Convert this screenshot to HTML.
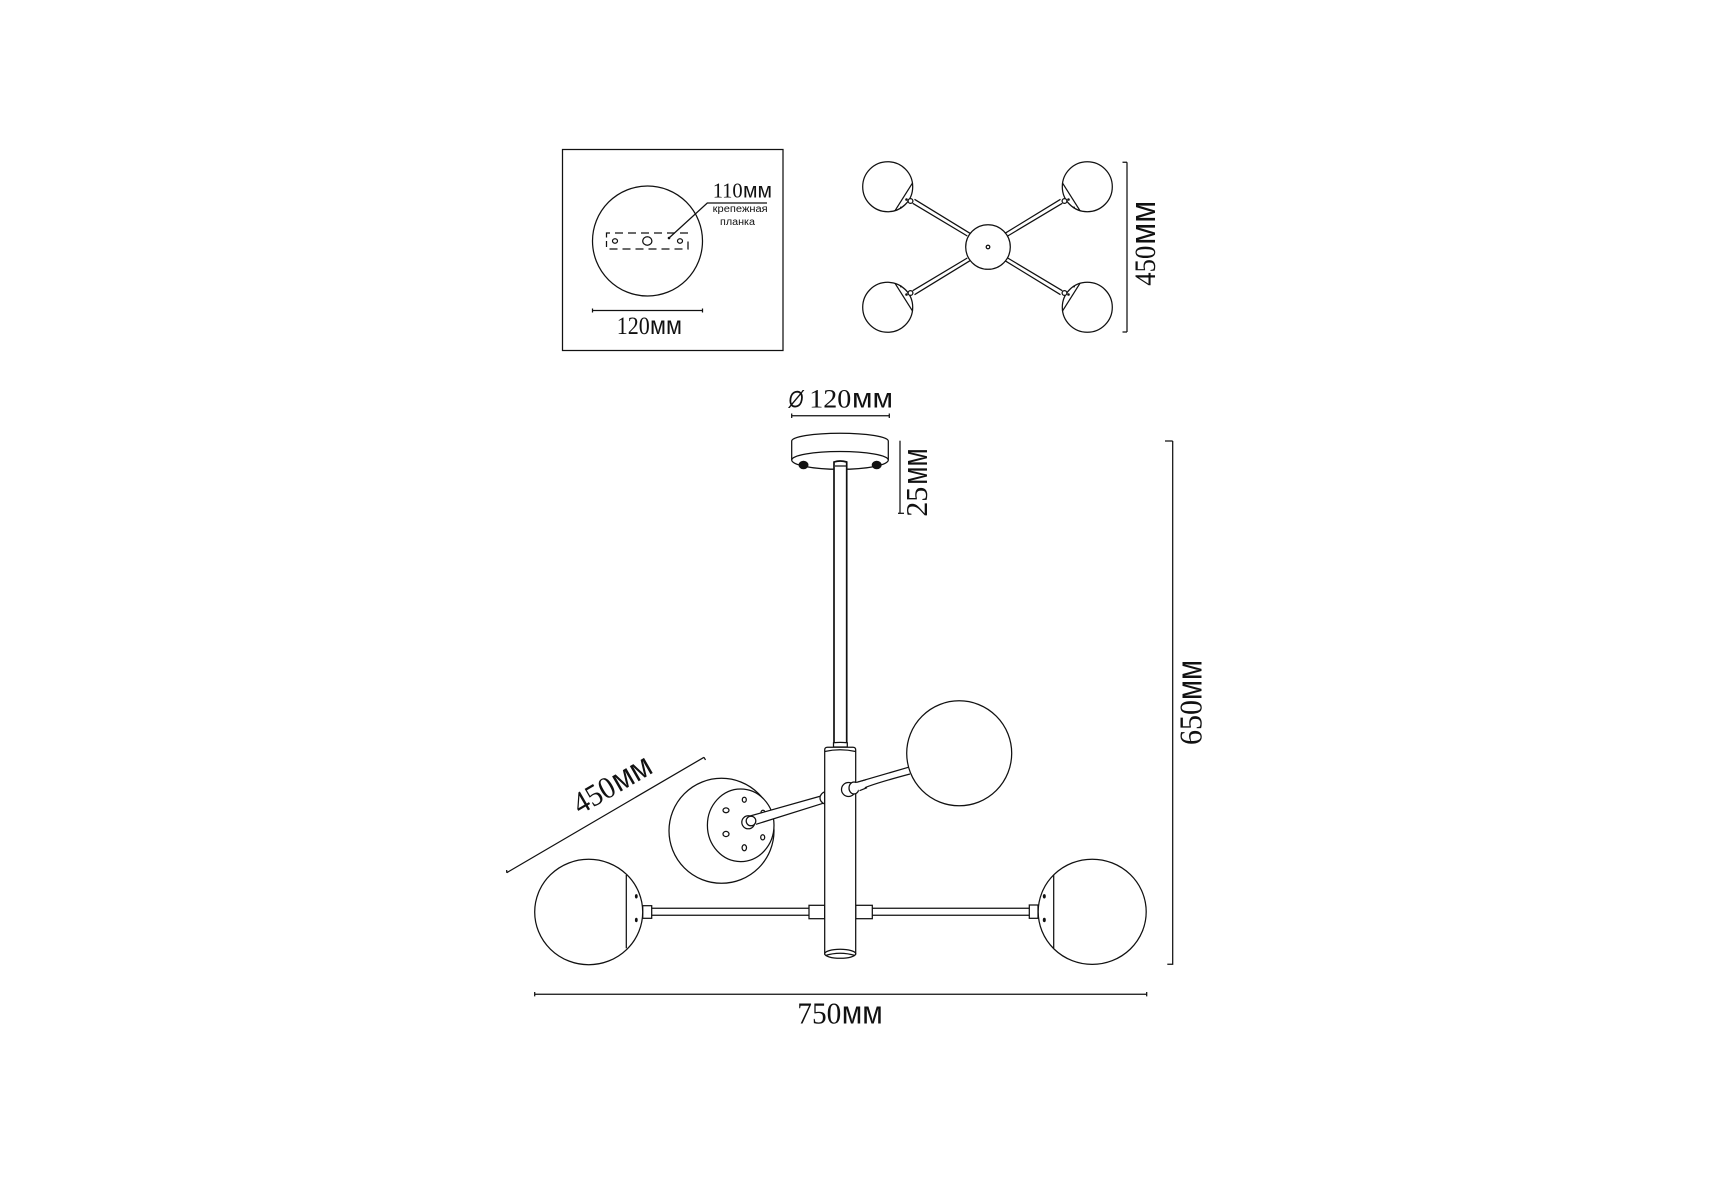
<!DOCTYPE html>
<html>
<head>
<meta charset="utf-8">
<style>
html,body{margin:0;padding:0;background:#fff;width:1715px;height:1200px;overflow:hidden}
svg{display:block}
.l{fill:none;stroke:#111;stroke-width:1.25}
.w{fill:#fff;stroke:#111;stroke-width:1.25}
.d{fill:#111;stroke:none}
.s{font-family:"Liberation Serif",serif;fill:#111}
.a{font-family:"Liberation Sans",sans-serif;fill:#111}
</style>
</head>
<body>
<svg width="1715" height="1200" viewBox="0 0 1715 1200" xmlns="http://www.w3.org/2000/svg">
<rect width="1715" height="1200" fill="#fff"/>

<!-- Mounting plate box -->
<rect class="l" x="565.5" y="149.5" width="220.5" height="201" transform="translate(-3,0)"/>
<circle class="l" cx="647.5" cy="241" r="55"/>
<path class="l" d="M606.5 237.5V233H688V238M688 241.5V249H606.5V241" stroke-dasharray="8 5"/>
<ellipse class="l" cx="615" cy="241" rx="2.5" ry="2.2"/>
<ellipse class="l" cx="647.3" cy="241" rx="4.6" ry="4.2"/>
<ellipse class="l" cx="680" cy="241" rx="2.5" ry="2.2"/>
<path class="l" d="M669 238L707.3 203H767"/>
<circle class="d" cx="669" cy="238" r="1.3"/>
<text class="s" x="712.7" y="197.5" font-size="21" textLength="30" lengthAdjust="spacingAndGlyphs">110</text>
<text class="a" x="743" y="197.5" font-size="21" textLength="29" lengthAdjust="spacingAndGlyphs">мм</text>
<text class="a" x="712.7" y="212" font-size="10" textLength="55" lengthAdjust="spacingAndGlyphs">крепежная</text>
<text class="a" x="720" y="225" font-size="10" textLength="35" lengthAdjust="spacingAndGlyphs">планка</text>
<path class="l" d="M592.5 310.5H702.5M592.5 308.5V312.5M702.5 308.5V312.5"/>
<text class="s" x="616.7" y="334" font-size="25.5" textLength="33" lengthAdjust="spacingAndGlyphs">120</text>
<text class="a" x="650" y="334" font-size="26" textLength="32" lengthAdjust="spacingAndGlyphs">мм</text>

<!-- Top view -->
<g id="q">
<path class="l" d="M912.7 203.3L967.3 236M914.5 199.3L970 233.3"/>
<circle class="w" cx="887.7" cy="186.7" r="25"/>
<path class="l" d="M912.7 182.7L895 210.7"/>
<circle class="w" cx="910.5" cy="201" r="2.4"/>
<circle class="d" cx="906.5" cy="199.5" r="1.3"/>
<circle class="d" cx="901" cy="207.5" r="1"/>
</g>
<use href="#q" transform="translate(1975,0) scale(-1,1)"/>
<use href="#q" transform="translate(0,494) scale(1,-1)"/>
<use href="#q" transform="translate(1975,494) scale(-1,-1)"/>
<circle class="w" cx="988" cy="247" r="22.3"/>
<circle class="l" cx="988" cy="247" r="1.8"/>
<path class="l" d="M1127 162.3V332M1122.5 162.3H1127M1122.5 332H1127"/>
<g transform="translate(1155,285.7) rotate(-90)">
<text class="s" x="0" y="0" font-size="30" textLength="40" lengthAdjust="spacingAndGlyphs">450</text>
<text class="a" x="41" y="0" font-size="36" textLength="44" lengthAdjust="spacingAndGlyphs">мм</text>
</g>

<!-- Dim: phi 120 -->
<text class="a" x="788.5" y="407.7" font-size="24" font-style="italic" textLength="15" lengthAdjust="spacingAndGlyphs">Ø</text>
<text class="s" x="809.3" y="407.7" font-size="26.5" textLength="42" lengthAdjust="spacingAndGlyphs">120</text>
<text class="a" x="852" y="407.7" font-size="27.5" textLength="41" lengthAdjust="spacingAndGlyphs">мм</text>
<path class="l" d="M791.7 415.7H889.3M791.7 413.5V418M889.3 413.5V418"/>

<!-- Canopy -->
<path class="w" d="M791.7 441A48.3 7.8 0 0 1 888.3 441V460A48.3 9.3 0 0 1 791.7 460Z"/>
<path class="l" d="M791.7 460A48.3 8.5 0 0 1 888.3 460"/>
<ellipse cx="803.5" cy="465" rx="5" ry="4.3" fill="#111"/>
<ellipse cx="876.7" cy="465" rx="5" ry="4.3" fill="#111"/>
<path d="M834 745V462Q840 460 846.7 462V745Z" fill="#fff" stroke="#111" stroke-width="1.7"/>
<path class="l" d="M835 466H846"/>
<path class="l" d="M900 440.7V513.3"/>
<path class="l" d="M898 513.3H904" />
<g transform="translate(927,516.7) rotate(-90)">
<text class="s" x="0" y="0" font-size="31" textLength="30" lengthAdjust="spacingAndGlyphs">25</text>
<text class="a" x="32" y="0" font-size="36" textLength="36.5" lengthAdjust="spacingAndGlyphs">мм</text>
</g>

<!-- Front view: back left globe -->
<circle class="w" cx="721.5" cy="830.8" r="52.5"/>
<ellipse class="w" cx="740.7" cy="825.3" rx="33.3" ry="36.3"/>
<ellipse class="l" cx="726" cy="810.3" rx="3" ry="2.4"/>
<ellipse class="l" cx="744.3" cy="799.7" rx="2" ry="2.5"/>
<ellipse class="l" cx="763" cy="812.7" rx="2" ry="2.5"/>
<ellipse class="l" cx="726" cy="834" rx="3" ry="2.6"/>
<ellipse class="l" cx="744.3" cy="847.7" rx="2.2" ry="3"/>
<ellipse class="l" cx="762.7" cy="837.3" rx="2" ry="2.6"/>
<path d="M750 816L820 796L823 804L756 824.3Z" fill="#fff"/>
<path class="l" d="M750 816L821 796M756 824.3L823 803.3"/>
<circle class="w" cx="748.3" cy="822.3" r="6.5"/>
<circle class="w" cx="751" cy="821" r="4.8"/>
<path class="w" d="M824.7 791.7Q820 794 820 798Q820 802 824.7 804Z"/>

<!-- Right back globe arm -->
<path class="l" d="M853.3 783.3L908.3 767.3M860.7 790Q865 786 910 774"/>
<circle class="w" cx="959.2" cy="753.3" r="52.5"/>

<!-- Horizontal arm -->
<path class="l" d="M651.7 908.3H809M651.7 915.3H809M872.3 908.3H1029.3M872.3 915.3H1029.3"/>
<rect class="w" x="809" y="905.3" width="15.7" height="13.4"/>
<rect class="w" x="855.7" y="905.3" width="16.6" height="13.4"/>
<rect class="w" x="642.7" y="905.7" width="9" height="12.6"/>
<rect class="w" x="1029.3" y="905" width="8.7" height="13.3"/>

<!-- Column -->
<path class="w" d="M833.5 747V742.8Q840 742 847.3 742.8V747Z"/>
<path class="w" d="M824.7 954V750Q824.7 747.3 827.5 747.3H853Q855.7 747.3 855.7 750V954Z"/>
<path class="l" d="M824.7 751.5Q840 748 855.7 751.5"/>
<ellipse class="w" cx="840.2" cy="953.8" rx="15.5" ry="4.5"/>
<path class="l" d="M825.5 955.5Q840 951 855 955.5"/>

<!-- Collar over column, right arm -->
<path d="M853 783L860 790L853 796Q846 796 843 790Q843 783 853 782Z" fill="#fff"/>
<ellipse class="w" cx="848.5" cy="789.5" rx="7" ry="7"/>
<ellipse class="w" cx="854" cy="788" rx="5" ry="6"/>
<path d="M855 783.5L861 781L865 788L859 791Z" fill="#fff"/>
<path class="l" d="M857 782.3L866 779.7M859.5 790.7L867 787.7"/>

<!-- Left globe -->
<ellipse class="w" cx="588.7" cy="912" rx="54" ry="52.7"/>
<path class="l" d="M626.3 875V948.3"/>
<ellipse class="d" cx="636.3" cy="896.3" rx="1.4" ry="2.2"/>
<ellipse class="d" cx="636.3" cy="920" rx="1.4" ry="2.2"/>

<!-- Right globe -->
<ellipse class="w" cx="1092.2" cy="911.8" rx="54" ry="52.6"/>
<path class="l" d="M1053.7 875V948.3"/>
<ellipse class="d" cx="1044.3" cy="896.3" rx="1.5" ry="2.2"/>
<ellipse class="d" cx="1044.3" cy="920" rx="1.5" ry="2.2"/>

<!-- Dim: diagonal 450 -->
<path class="l" d="M506.7 872.7L704 757.3M506.7 872.7V870M704 757.3L705.5 760"/>
<g transform="translate(580,815) rotate(-30)">
<text class="s" x="0" y="0" font-size="31" textLength="44" lengthAdjust="spacingAndGlyphs">450</text>
<text class="a" x="45" y="0" font-size="33" textLength="41" lengthAdjust="spacingAndGlyphs">мм</text>
</g>

<!-- Dim: 750 -->
<path class="l" d="M534.7 994.2H1146.7M534.7 992V996.4M1146.7 992V996.4"/>
<text class="s" x="797.3" y="1023.3" font-size="31" textLength="44" lengthAdjust="spacingAndGlyphs">750</text>
<text class="a" x="841.7" y="1023.3" font-size="32" textLength="41" lengthAdjust="spacingAndGlyphs">мм</text>

<!-- Dim: 650 -->
<path class="l" d="M1172.7 441V964.3M1165 441H1172.7M1167.3 964.3H1173.3"/>
<g transform="translate(1201.7,745) rotate(-90)">
<text class="s" x="0" y="0" font-size="32" textLength="45" lengthAdjust="spacingAndGlyphs">650</text>
<text class="a" x="45" y="0" font-size="36" textLength="40" lengthAdjust="spacingAndGlyphs">мм</text>
</g>
</svg>
</body>
</html>
